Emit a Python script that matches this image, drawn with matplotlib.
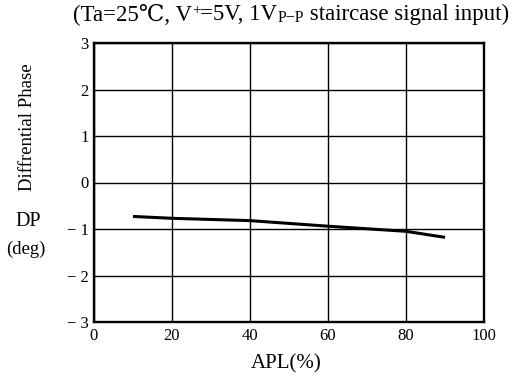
import matplotlib
matplotlib.use('Agg')
import matplotlib.pyplot as plt

plt.rcParams['font.family'] = ['Liberation Serif', 'DejaVu Serif']

apl = [10, 20, 40, 60, 80, 90]
dp = [-0.73, -0.77, -0.82, -0.94, -1.05, -1.18]

xticks = [0, 20, 40, 60, 80, 100]
yticks = [-3, -2, -1, 0, 1, 2, 3]
ylabels = ['\u2212 3', '\u2212 2', '\u2212 1', '0', '1', '2', '3']

# title pieces: (text, size scale, vertical offset in px)
title_parts = [('(Ta=25\u2103, V', 1.0, 0), ('+', 0.65, 6), ('=5V, 1V', 1.0, 0),
               ('P\u2212P', 0.7, -2), (' staircase signal input)', 1.0, 0)]

W, H = 516, 384
fig = plt.figure(figsize=(W / 100, H / 100), dpi=100)
ax = fig.add_axes([94/W, 1 - 322/H, (484-94)/W, (322-43)/H])

ax.plot(apl, dp, color='black', lw=2.2, solid_capstyle='butt')

ax.set_xlim(0, 100)
ax.set_ylim(-3, 3)
ax.set_xticks(xticks)
ax.set_yticks(yticks, ylabels)
ax.grid(True, color='black', lw=1.0)
for s in ax.spines.values():
    s.set_linewidth(1.7)
ax.tick_params(length=0, labelsize=12, pad=4)

# title built from pieces so the degree sign can use a fallback font
renderer = fig.canvas.get_renderer()
base = 16.5
texts = []
x = 0
for txt, sc, dy in title_parts:
    t = fig.text(x / W, 1 - (20 - dy) / H, txt, ha='left', va='baseline', fontsize=base * sc)
    w = t.get_window_extent(renderer).width
    texts.append(t)
    x += w
shift = 509 - x
for t in texts:
    t.set_x(t.get_position()[0] + shift / W)

fig.text(28/W, 1 - 127/H, 'Diffrential Phase', rotation=90, ha='center', va='center', fontsize=13.5)
fig.text(28/W, 1 - 222/H, 'DP', ha='center', va='center', fontsize=14.5)
fig.text(26/W, 1 - 249/H, '(deg)', ha='center', va='center', fontsize=13.5)
fig.text(286/W, 1 - 364/H, 'APL(%)', ha='center', va='center', fontsize=15)

fig.savefig('out.png', dpi=100)
